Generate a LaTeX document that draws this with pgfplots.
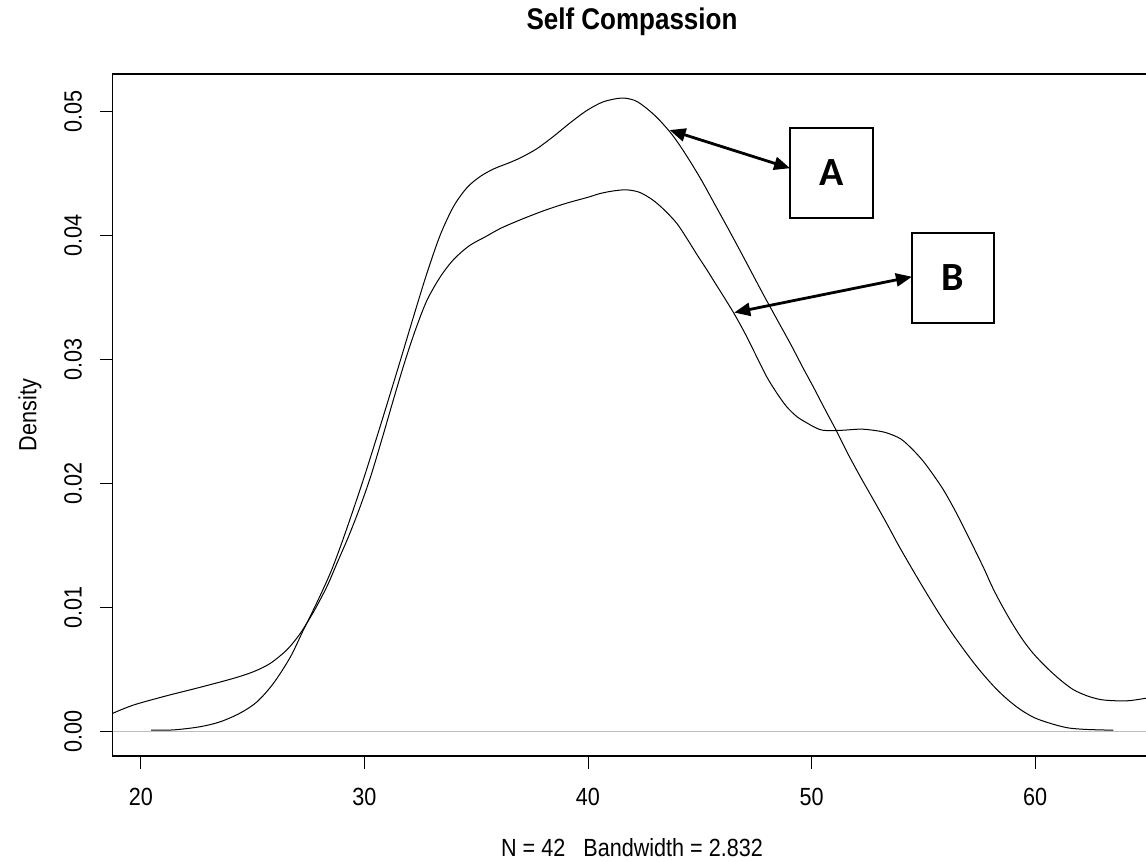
\documentclass[border=0pt]{standalone}
\usepackage{graphicx}
\usepackage{pgfplots}
\pgfplotsset{compat=1.18}
\usetikzlibrary{arrows.meta}
\usepackage{fontspec}
\setmainfont{Liberation Sans}
\newfontfamily\boxfont{Carlito}
\newcommand{\st}[1]{\scalebox{1}[1.15]{#1}}
\definecolor{rgray}{HTML}{BEBEBE}

\pgfplotstableread{
x y
20.46 0.00012
21.5 0.00015
22.65 0.0004
23.55 0.0008
24.44 0.0015
25.19 0.0024
25.93 0.0039
26.68 0.0060
27.27 0.0082
27.87 0.0104
28.5 0.0129
29.0 0.0153
29.5 0.0179
30.0 0.0206
30.7 0.0246
31.5 0.0293
32.2 0.0335
32.8 0.0370
33.4 0.0401
34.0 0.0424
34.6 0.0439
35.2 0.0448
35.8 0.0454
36.5 0.0459
37.0 0.0463
37.7 0.0470
38.45 0.0480
39.2 0.0491
39.95 0.0501
40.69 0.0508
41.5 0.0511
42.1 0.0509
42.6 0.0503
43.1 0.0495
43.65 0.0484
44.1 0.0473
44.6 0.0459
45.1 0.0444
45.68 0.0425
46.2 0.0408
46.77 0.0389
47.3 0.0371
47.86 0.0352
48.5 0.0331
49.11 0.0311
49.6 0.0294
50.08 0.0278
50.6 0.0260
51.13 0.0242
51.6 0.0225
52.17 0.0206
52.8 0.0186
53.36 0.0168
53.9 0.0150
54.54 0.0130
55.1 0.0113
55.75 0.0094
56.3 0.0079
56.94 0.0063
57.5 0.0050
58.13 0.0037
58.7 0.0027
59.33 0.0018
60.0 0.0011
60.81 0.0006
61.5 0.0003
62.31 0.00018
63.5 0.00012
}\curveA

\pgfplotstableread{
x y
18.74 0.00148
19.67 0.00215
21.16 0.0029
22.65 0.00358
24.14 0.0043
25.04 0.00484
25.78 0.0055
26.53 0.0066
27.12 0.0079
27.72 0.00965
28.32 0.0117
28.8 0.0137
29.28 0.0157
29.8 0.0181
30.3 0.0207
30.8 0.0237
31.3 0.0268
31.8 0.0298
32.3 0.0325
32.8 0.0348
33.4 0.0367
34.0 0.0381
34.7 0.0392
35.4 0.0399
36.1 0.0406
37.0 0.0413
38.0 0.0420
39.0 0.0426
40.0 0.0431
40.54 0.0434
41.1 0.0436
41.71 0.0437
42.3 0.0435
42.88 0.0429
43.4 0.0421
43.97 0.0410
44.45 0.0397
44.9 0.0384
45.3 0.0373
45.68 0.0362
46.1 0.0350
46.54 0.0337
47.0 0.0322
47.5 0.0304
48.0 0.0286
48.45 0.0273
48.89 0.0262
49.35 0.0254
49.79 0.0249
50.2 0.0245
50.53 0.0243
51.3 0.0243
52.17 0.0244
52.8 0.0243
53.36 0.0241
54.0 0.0236
54.55 0.0227
55.0 0.0218
55.45 0.0207
55.9 0.0195
56.34 0.0181
56.8 0.0165
57.24 0.0149
57.7 0.0132
58.13 0.0115
58.6 0.0099
59.02 0.0086
59.45 0.0074
59.92 0.0063
60.5 0.0052
61.11 0.0042
61.7 0.0034
62.31 0.0029
62.9 0.0026
63.5 0.0025
64.2 0.0025
64.96 0.0027
}\curveB

\begin{document}
\begin{tikzpicture}
\useasboundingbox (0,0) rectangle (573pt,431pt);
\begin{axis}[
  at={(56.35pt,53pt)}, anchor=south west,
  scale only axis, width=516.65pt, height=341pt,
  xmin=18.74, xmax=64.96, ymin=-0.00196, ymax=0.05304,
  axis line style={draw=none},
  clip=false,
  tick align=outside, major tick length=6.5pt,
  xtick pos=left, ytick pos=left,
  tick style={black, line width=0.5pt},
  xtick={20,30,40,50,60},
  xticklabels={\st{20},\st{30},\st{40},\st{50},\st{60}},
  ytick={0,0.01,0.02,0.03,0.04,0.05},
  yticklabels={\st{0.00},\st{0.01},\st{0.02},\st{0.03},\st{0.04},\st{0.05}},
  scaled y ticks=false,
  xticklabel style={anchor=center, yshift=-14pt, font=\fontsize{10.8}{12}\selectfont},
  yticklabel style={xshift=-13.35pt, rotate=90, anchor=center, font=\fontsize{10.8}{12}\selectfont},
]
\draw[line width=0.6pt] (rel axis cs:1,0) -- (rel axis cs:0,0) -- (rel axis cs:0,1) -- (rel axis cs:1,1);
\addplot[rgray, line width=0.6pt] coordinates {(18.74,0) (64.96,0)};
\addplot[black, line width=0.5pt, smooth] table[x=x,y=y] {\curveA};
\addplot[black, line width=0.5pt, smooth] table[x=x,y=y] {\curveB};
% annotation boxes
\draw[line width=1pt, fill=white] (axis cs:49.04,0.04143) rectangle (axis cs:52.75,0.04869);
\node at (axis cs:50.9,0.04506) {\boxfont\bfseries\fontsize{20}{22}\selectfont A};
\draw[line width=1pt, fill=white] (axis cs:54.49,0.03296) rectangle (axis cs:58.16,0.04022);
\node at (axis cs:56.32,0.03659) {\boxfont\bfseries\fontsize{20}{22}\selectfont B};
\draw[line width=1.4pt, {Triangle[length=8pt,width=6.5pt]}-{Triangle[length=8pt,width=6.5pt]}]
  (axis cs:43.65,0.04852) -- (axis cs:49.04,0.04544);
\draw[line width=1.4pt, {Triangle[length=8pt,width=6.5pt]}-{Triangle[length=8pt,width=6.5pt]}]
  (axis cs:46.54,0.0338) -- (axis cs:54.49,0.03669);
\end{axis}
\node at (316pt,420pt) {\st{\bfseries\fontsize{13}{15}\selectfont Self Compassion}};
\node at (316pt,7pt) {\st{\fontsize{10.8}{12}\selectfont N = 42\ \ \ Bandwidth = 2.832}};
\node[rotate=90] at (15pt,223.5pt) {\st{\fontsize{10.8}{12}\selectfont Density}};
\end{tikzpicture}
\end{document}
